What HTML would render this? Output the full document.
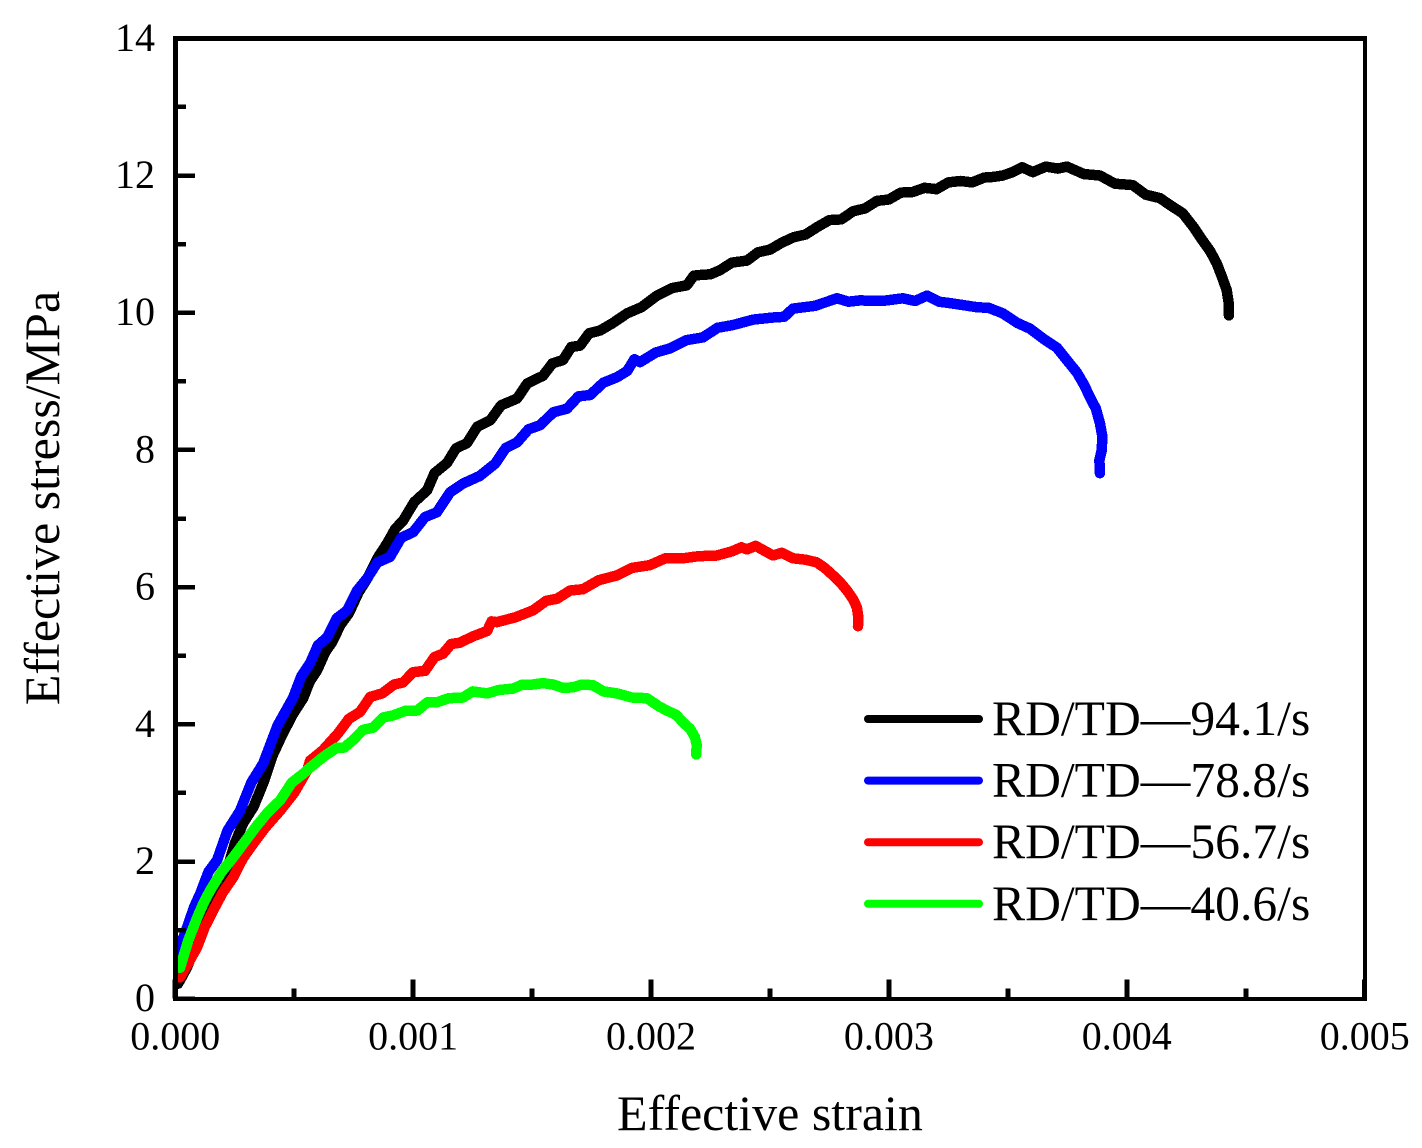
<!DOCTYPE html>
<html lang="en">
<head>
<meta charset="utf-8">
<title>Effective stress vs effective strain</title>
<style>
html,body{margin:0;padding:0;background:#fff;}
#chart{display:block;width:1422px;height:1148px;}
text{font-family:"Liberation Serif",serif;fill:#000;}
</style>
</head>
<body>
<svg id="chart" xmlns="http://www.w3.org/2000/svg" width="1422" height="1148" viewBox="0 0 1422 1148">
  <rect width="1422" height="1148" fill="#fff"/>
  <g id="series"></g>
  <g id="axes"></g>
  <text x="770" y="1130" font-size="50" text-anchor="middle">Effective strain</text>
  <text transform="translate(59,498) rotate(-90)" font-size="50" text-anchor="middle">Effective stress/MPa</text>
  <g id="legend"></g>
</svg>
<script>
// Chart data (strain in units of 1e-3, stress in MPa)
const xTickLabels = ["0.000", "0.001", "0.002", "0.003", "0.004", "0.005"];
const yTickLabels = ["0", "2", "4", "6", "8", "10", "12", "14"];
const seriesNames = ["RD/TD\u201494.1/s", "RD/TD\u201478.8/s", "RD/TD\u201456.7/s", "RD/TD\u201440.6/s"];
const seriesColors = ["#000000", "#0000ff", "#ff0000", "#00ff00"];

const blackCurve = [[0.012,0.22],[0.03,0.33],[0.05,0.46],[0.075,0.68],[0.1,0.9],[0.125,1.12],[0.15,1.3],[0.185,1.62],[0.22,1.9],[0.25,2.26],[0.286,2.56],[0.33,2.8],[0.37,3.14],[0.41,3.55],[0.45,3.85],[0.495,4.15],[0.538,4.38],[0.565,4.62],[0.597,4.79],[0.63,5.05],[0.66,5.2],[0.695,5.45],[0.73,5.62],[0.77,5.92],[0.81,6.14],[0.85,6.42],[0.891,6.64],[0.925,6.85],[0.958,6.97],[1.005,7.24],[1.059,7.41],[1.09,7.66],[1.143,7.81],[1.18,8.02],[1.227,8.1],[1.27,8.34],[1.324,8.43],[1.37,8.65],[1.437,8.75],[1.48,8.97],[1.546,9.08],[1.585,9.26],[1.63,9.31],[1.665,9.5],[1.702,9.52],[1.74,9.7],[1.786,9.74],[1.84,9.85],[1.899,9.99],[1.96,10.08],[2.025,10.25],[2.09,10.36],[2.151,10.4],[2.18,10.54],[2.206,10.55],[2.25,10.56],[2.29,10.62],[2.34,10.73],[2.403,10.76],[2.45,10.88],[2.5,10.92],[2.55,11.02],[2.6,11.1],[2.65,11.14],[2.7,11.25],[2.75,11.35],[2.8,11.36],[2.85,11.48],[2.9,11.52],[2.95,11.63],[3.0,11.65],[3.05,11.75],[3.1,11.76],[3.15,11.82],[3.2,11.8],[3.25,11.9],[3.3,11.92],[3.35,11.9],[3.4,11.97],[3.44,11.98],[3.479,12.0],[3.52,12.05],[3.56,12.12],[3.605,12.05],[3.66,12.13],[3.71,12.1],[3.748,12.13],[3.82,12.02],[3.887,12.0],[3.95,11.88],[4.025,11.86],[4.08,11.72],[4.139,11.67],[4.19,11.55],[4.235,11.45],[4.28,11.25],[4.319,11.05],[4.35,10.9],[4.378,10.72],[4.4,10.52],[4.42,10.33],[4.428,10.15],[4.429,9.96]];

const blueCurve = [[0.012,0.66],[0.03,0.85],[0.05,1.04],[0.08,1.34],[0.105,1.53],[0.14,1.85],[0.176,2.02],[0.22,2.45],[0.273,2.74],[0.32,3.15],[0.37,3.43],[0.43,3.98],[0.496,4.39],[0.53,4.7],[0.567,4.89],[0.6,5.15],[0.639,5.27],[0.68,5.55],[0.723,5.66],[0.765,5.95],[0.807,6.13],[0.85,6.36],[0.903,6.44],[0.95,6.72],[1.0,6.8],[1.05,7.02],[1.1,7.09],[1.155,7.38],[1.21,7.51],[1.28,7.62],[1.345,7.8],[1.39,8.03],[1.437,8.11],[1.485,8.3],[1.534,8.36],[1.59,8.55],[1.647,8.6],[1.695,8.78],[1.744,8.8],[1.8,8.98],[1.857,9.06],[1.9,9.15],[1.93,9.32],[1.954,9.28],[2.02,9.42],[2.08,9.48],[2.15,9.6],[2.218,9.64],[2.28,9.78],[2.345,9.82],[2.43,9.9],[2.513,9.93],[2.56,9.94],[2.597,10.06],[2.69,10.1],[2.782,10.21],[2.83,10.16],[2.878,10.18],[2.97,10.17],[3.059,10.21],[3.11,10.17],[3.16,10.25],[3.21,10.16],[3.256,10.14],[3.37,10.08],[3.42,10.07],[3.479,9.99],[3.54,9.85],[3.592,9.77],[3.65,9.62],[3.706,9.49],[3.75,9.3],[3.79,9.13],[3.82,8.95],[3.845,8.77],[3.87,8.6],[3.887,8.39],[3.897,8.2],[3.895,8.0],[3.885,7.85],[3.887,7.66]];

const redCurve = [[0.02,0.31],[0.055,0.52],[0.092,0.75],[0.125,1.05],[0.16,1.29],[0.2,1.55],[0.244,1.77],[0.285,2.05],[0.328,2.26],[0.38,2.5],[0.441,2.74],[0.5,3.0],[0.555,3.33],[0.567,3.47],[0.62,3.62],[0.685,3.87],[0.73,4.08],[0.777,4.18],[0.82,4.4],[0.87,4.45],[0.92,4.58],[0.958,4.61],[1.0,4.76],[1.05,4.78],[1.09,4.98],[1.126,5.03],[1.16,5.17],[1.197,5.19],[1.25,5.28],[1.311,5.36],[1.33,5.5],[1.353,5.49],[1.43,5.56],[1.504,5.66],[1.56,5.8],[1.605,5.83],[1.66,5.95],[1.714,5.97],[1.78,6.1],[1.857,6.17],[1.92,6.28],[1.996,6.32],[2.06,6.42],[2.134,6.42],[2.2,6.45],[2.277,6.46],[2.34,6.52],[2.38,6.58],[2.403,6.55],[2.44,6.6],[2.513,6.46],[2.55,6.5],[2.597,6.42],[2.65,6.4],[2.697,6.36],[2.73,6.28],[2.765,6.17],[2.8,6.05],[2.824,5.95],[2.85,5.82],[2.866,5.7],[2.872,5.55],[2.87,5.43]];

const greenCurve = [[0.02,0.45],[0.055,0.85],[0.092,1.18],[0.12,1.4],[0.147,1.58],[0.195,1.85],[0.244,2.06],[0.295,2.3],[0.345,2.53],[0.39,2.72],[0.441,2.89],[0.49,3.15],[0.538,3.28],[0.567,3.37],[0.625,3.53],[0.68,3.66],[0.71,3.66],[0.748,3.77],[0.79,3.92],[0.832,3.95],[0.875,4.1],[0.916,4.13],[0.97,4.2],[1.017,4.2],[1.06,4.32],[1.1,4.32],[1.15,4.38],[1.21,4.39],[1.25,4.48],[1.311,4.45],[1.36,4.5],[1.42,4.52],[1.46,4.58],[1.504,4.58],[1.545,4.6],[1.588,4.58],[1.63,4.53],[1.672,4.54],[1.71,4.58],[1.756,4.57],[1.8,4.48],[1.857,4.45],[1.92,4.39],[1.983,4.38],[2.03,4.27],[2.067,4.2],[2.105,4.14],[2.134,4.03],[2.165,3.93],[2.185,3.81],[2.192,3.7],[2.19,3.56]];

const seriesCurves = [blackCurve, blueCurve, redCurve, greenCurve];
const seriesKeys = ["94-1", "78-8", "56-7", "40-6"];

const NS = "http://www.w3.org/2000/svg";
const plotLeft = 175.2, plotRight = 1364.7, plotTop = 38.3, plotBottom = 998.7;
const xMax = 5, yMax = 14;
function xScale(v){ return plotLeft + (v / xMax) * (plotRight - plotLeft); }
function yScale(v){ return plotBottom - (v / yMax) * (plotBottom - plotTop); }

function make(tag, attrs, parent){
  const el = document.createElementNS(NS, tag);
  for (const k in attrs) el.setAttribute(k, attrs[k]);
  parent.appendChild(el);
  return el;
}

const seriesGroup = document.getElementById("series");
const axesGroup = document.getElementById("axes");
const legendGroup = document.getElementById("legend");

// Series
seriesCurves.forEach(function(curve, i){
  const pts = curve.map(function(p){ return xScale(p[0]).toFixed(1) + "," + yScale(p[1]).toFixed(1); }).join(" ");
  const line = make("polyline", {points: pts, fill: "none", stroke: seriesColors[i], "stroke-width": 10.5, "stroke-linejoin": "round", "stroke-linecap": "round", "shape-rendering": "crispEdges"}, seriesGroup);
  
  
});

// Frame
const frameLeft = make("rect", {x: 173, y: 36, width: 5, height: 965, fill: "#000"}, axesGroup);


const frameTop = make("rect", {x: 173, y: 36, width: 1194, height: 5, fill: "#000"}, axesGroup);


const frameRight = make("rect", {x: 1363, y: 36, width: 4, height: 965, fill: "#000"}, axesGroup);


const frameBottom = make("rect", {x: 173, y: 997, width: 1194, height: 4, fill: "#000"}, axesGroup);



// X ticks
for (let i = 0; i <= 10; i++) {
  const v = i / 2;
  const major = i % 2 === 0;
  const px = xScale(v);
  const t = make("line", {x1: px, x2: px, y1: plotBottom, y2: plotBottom - (major ? 19 : 10), stroke: "#000", "stroke-width": 5, "shape-rendering": "crispEdges"}, axesGroup);
  
  
  if (major) {
    const l = make("text", {x: px, y: 1049.5, "font-size": 40, "text-anchor": "middle"}, axesGroup);
    l.textContent = xTickLabels[i / 2];
    
    
  }
}

// Y ticks
for (let i = 0; i <= yMax; i++) {
  const major = i % 2 === 0;
  const py = yScale(i);
  const t = make("line", {x1: plotLeft, x2: plotLeft + (major ? 20 : 11), y1: py, y2: py, stroke: "#000", "stroke-width": 4.5, "shape-rendering": "crispEdges"}, axesGroup);
  
  
  if (major) {
    const l = make("text", {x: 155, y: py + 12.5, "font-size": 40, "text-anchor": "end"}, axesGroup);
    l.textContent = yTickLabels[i / 2];
    
    
  }
}

// Legend
seriesNames.forEach(function(name, i){
  const cy = 719 + i * 61.6;
  const ln = make("line", {x1: 868, x2: 979, y1: cy, y2: cy, stroke: seriesColors[i], "stroke-width": 8, "stroke-linecap": "round"}, legendGroup);
  
  
  const tx = make("text", {x: 992, y: cy + 16, "font-size": 49.6}, legendGroup);
  tx.textContent = name;
  
  
});
</script>
</body>
</html>
